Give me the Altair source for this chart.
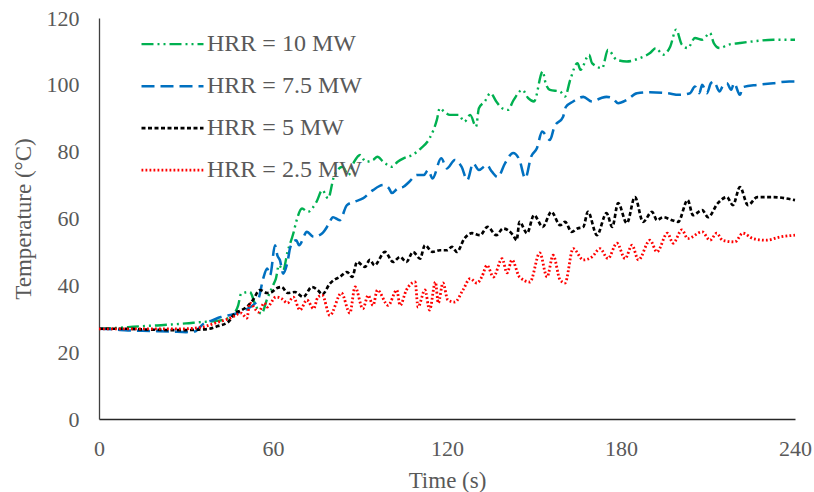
import altair as alt
import pandas as pd

# Gas temperature histories for four fire sizes
labels = ["HRR = 10 MW", "HRR = 7.5 MW", "HRR = 5 MW", "HRR = 2.5 MW"]
colors = ["#00B050", "#0070C0", "#000000", "#FF0000"]
dashes = [[12, 4, 2, 4, 2, 4], [13, 6], [4, 2.5], [1.8, 2.2]]
widths = [2.4, 2.8, 2.4, 1.9]

t_10 = [0, 5, 10, 15, 20, 25, 30, 35, 40, 44, 46, 48, 49, 52, 54, 56, 58, 60, 61, 62,
        63.5, 65, 67, 68, 70, 72, 75, 77, 79, 81, 84, 86, 88, 90, 92, 94.5, 96, 98, 101,
        103, 105, 108, 111, 114, 116.5, 117.5, 119, 121, 124, 126, 128, 130, 131, 133,
        135, 137, 139, 141, 143, 146, 148, 150, 153, 154, 155.5, 159, 160.7, 162.5, 165,
        166, 169, 170, 173.5, 175.5, 178.5, 182, 186.5, 190, 192, 194.5, 197, 199, 201,
        203, 205.5, 208, 210.7, 212, 214, 217, 221, 225.5, 232.5, 240]
T_10 = [27, 27.2, 27.5, 27.8, 28, 28.3, 28.6, 29, 29.3, 30, 31, 34, 37.5, 38, 34, 31.5, 36,
        40, 42, 46, 44.5, 50, 55.5, 59, 63, 62, 65, 68.5, 66, 72.5, 75.5, 73, 77, 79, 77,
        77.5, 78.5, 77, 75.5, 77, 78, 79, 81, 84, 89.5, 93, 92, 91, 91, 89, 91, 87.5, 93,
        95, 97.5, 95, 93, 92.5, 95.5, 98.5, 96, 95, 104, 100.5, 98.5, 98, 96.5, 101.5,
        106.5, 104.5, 109, 106.5, 105, 110.5, 107.5, 107, 108, 109.5, 111, 109, 111.5,
        116.5, 112, 111, 114, 113.5, 115.5, 112.5, 111, 112, 112.5, 113, 113.5, 113.5]

t_75 = [0, 5, 10, 15, 20, 25, 30, 33, 36, 39, 42, 44.5, 47, 50, 53, 55, 56.6, 58, 59, 60.7,
        61.5, 62.4, 63.5, 65, 66, 68, 69, 71.7, 74, 77, 79, 80.7, 83, 85.5, 88, 91, 94.5,
        98, 100, 101, 103, 105, 107, 109.6, 112, 113.5, 115, 118, 120, 122.7, 125, 127,
        129, 131, 133.7, 135.5, 137.5, 140, 142.8, 145, 147, 149, 151, 152.8, 155.5, 157,
        160, 161, 163.5, 167, 170, 173, 175, 177, 179, 182, 185.5, 190, 196, 200, 203.8,
        205.5, 207, 208, 209.6, 211, 212, 214, 215, 216.5, 218, 219, 221, 222, 227, 232.5,
        238, 240]
T_75 = [27, 26.8, 26.5, 26.4, 26.3, 26.2, 26, 26.2, 28.5, 29.5, 30.5, 31, 31.5, 32.5, 34,
        36, 42, 45, 43, 52, 49, 47.5, 43.5, 47, 51.5, 53.5, 52, 56, 54.5, 55.6, 58, 60.4,
        59.5, 64, 65, 66, 68.5, 70, 69, 67.6, 69, 69.5, 71, 73, 73, 74.5, 72, 78, 75, 77.5,
        75.5, 71.5, 76.5, 74.5, 76, 74, 72.4, 76.5, 79.6, 77.5, 72, 78.5, 81, 86, 83.5,
        87.4, 90.4, 93.4, 95, 96.4, 95, 96, 96.4, 96, 94.5, 95.5, 97.5, 97.8, 97.5, 97,
        97.5, 99.5, 97.5, 100, 97.5, 100.5, 101, 98, 99.5, 100.5, 98.5, 100.5, 97, 99.3,
        100, 100.5, 101, 101]

t_5 = [0, 5, 10, 15, 20, 25, 30, 35, 38, 41, 44.5, 47, 49, 51.5, 53, 55.5, 58, 59.6, 61,
       63, 65, 67.6, 70.4, 73.4, 75.5, 77, 79.6, 81, 83, 85.5, 87.3, 89, 91.7, 93.4, 95,
       98.6, 101.4, 103.8, 106, 108.3, 110.7, 112.4, 115, 117.6, 120, 121.7, 123.4, 126,
       128.6, 131.4, 134, 137, 139.3, 142.8, 144, 145, 147.6, 150, 153, 156, 159, 160.7,
       163, 165, 167, 168.6, 171.7, 175, 177, 179, 182, 184.8, 187.6, 190.7, 192.4, 194.5,
       197.6, 199.7, 203, 204.8, 208, 210, 213.4, 216.5, 218.6, 221, 223.8, 227, 232.4, 240]
T_5 = [27, 27, 27, 26.8, 26.7, 26.6, 26.6, 26.8, 27, 27.8, 29, 31.7, 32.5, 34, 35.5, 38.6,
       37.7, 38, 39, 39.5, 37.7, 38, 36.5, 39.5, 38.5, 37.3, 40.5, 41.6, 42.5, 44, 42.5, 47,
       45.5, 47.6, 46, 50, 47, 48.5, 47, 50, 48, 52, 50, 50.5, 50.5, 51.5, 50, 54, 55.6, 55,
       57.5, 55, 57, 55, 53.5, 59, 55.6, 61, 57.5, 62, 58, 59, 56, 57, 57.5, 62, 55, 61.6,
       57.5, 64.6, 58.6, 66.4, 59, 62, 59.5, 60.4, 59.5, 59, 65.5, 61, 62.5, 60.4, 64.6,
       66.4, 64, 69.4, 64, 66.4, 66.4, 65.5]

t_25 = [0, 10, 20, 30, 33, 37, 40, 43, 46, 49, 51, 52, 55, 57, 58, 61, 63, 65, 67, 69.3,
        71.7, 74, 75.5, 77, 79.6, 83.6, 86.5, 88.3, 91, 92.8, 94.5, 96, 99.7, 102.7, 103.8,
        106, 109, 110, 112.4, 114, 116, 117, 118.6, 120.3, 122.7, 125.5, 128, 130.3, 132,
        133.8, 136, 139, 140.7, 142.4, 145, 148.6, 152, 154.5, 156.6, 159, 160.7, 163.5,
        167, 170, 172.8, 175.5, 178.6, 181.4, 183.8, 186, 190, 192.4, 196, 198, 201, 203,
        208, 210.7, 213, 215, 219.3, 222, 225.5, 230, 235, 240]
T_25 = [27, 27, 27, 27, 27.2, 27.8, 28.7, 29.5, 30.5, 31.7, 30.2, 34.7, 32, 34.7, 33.5,
        36.5, 36, 34.7, 36.5, 32.6, 35.6, 33, 36.5, 37, 31, 37.7, 31.7, 39.5, 33, 37, 34,
        38.6, 34, 38.6, 34, 38.6, 41, 33.5, 38.6, 32.6, 41, 34.7, 40.7, 35.6, 35, 38.6, 42,
        40.7, 42.5, 46, 42.5, 48, 43.7, 47.6, 42.5, 41, 49.7, 42.5, 49, 41.6, 40.7, 51, 47.6,
        48.5, 51, 48, 52.6, 48, 52, 47.6, 53.5, 50, 55.6, 52.6, 56.6, 54, 56, 53.5, 55.6,
        53.5, 53, 55.6, 54, 53.5, 54.5, 55]

series = [(labels[0], t_10, T_10), (labels[1], t_75, T_75),
          (labels[2], t_5, T_5), (labels[3], t_25, T_25)]
frames = [pd.DataFrame({"series": name, "time": ts, "temp": vs}) for name, ts, vs in series]
df = pd.concat(frames, ignore_index=True)

font = "Liberation Serif"
grey = "#595959"

chart = (
    alt.Chart(df)
    .mark_line(interpolate="monotone", strokeCap="butt")
    .encode(
        x=alt.X(
            "time:Q",
            scale=alt.Scale(domain=[0, 240], nice=False),
            axis=alt.Axis(
                title="Time (s)", values=[0, 60, 120, 180, 240], grid=False,
                ticks=False, tickSize=0, labelPadding=19, titlePadding=10,
                labelFlush=False,
                domainColor="#262626", domainWidth=1.3,
                labelFont=font, labelFontSize=22, labelColor=grey,
                titleFont=font, titleFontSize=23, titleColor=grey, titleFontWeight="normal",
            ),
        ),
        y=alt.Y(
            "temp:Q",
            scale=alt.Scale(domain=[0, 120], nice=False),
            axis=alt.Axis(
                title="Temperature (°C)", values=[0, 20, 40, 60, 80, 100, 120],
                grid=False, ticks=False, tickSize=0, labelPadding=20, titlePadding=11,
                labelFlush=False,
                domainColor="#404040", domainWidth=1.3,
                labelFont=font, labelFontSize=22, labelColor=grey,
                titleFont=font, titleFontSize=23, titleColor=grey, titleFontWeight="normal",
            ),
        ),
        color=alt.Color(
            "series:N",
            scale=alt.Scale(domain=labels, range=colors),
            legend=alt.Legend(
                title=None, orient="none", legendX=41, legendY=5.5,
                symbolType="stroke", symbolSize=3844, symbolStrokeWidth=2.6,
                labelOffset=2, rowPadding=0, padding=0, clipHeight=41.3,
                labelFont=font, labelFontSize=24, labelColor=grey,
                labelLimit=300,
            ),
        ),
        strokeDash=alt.StrokeDash(
            "series:N", scale=alt.Scale(domain=labels, range=dashes), legend=None
        ),
        strokeWidth=alt.StrokeWidth(
            "series:N", scale=alt.Scale(domain=labels, range=widths), legend=None
        ),
    )
    .properties(
        width=696, height=401, autosize="none", background="white",
        padding={"left": 99, "top": 18, "right": 19, "bottom": 73},
    )
    .configure_view(stroke=None)
)

chart.save("out.html", embed_options={"renderer": "svg", "actions": False})
